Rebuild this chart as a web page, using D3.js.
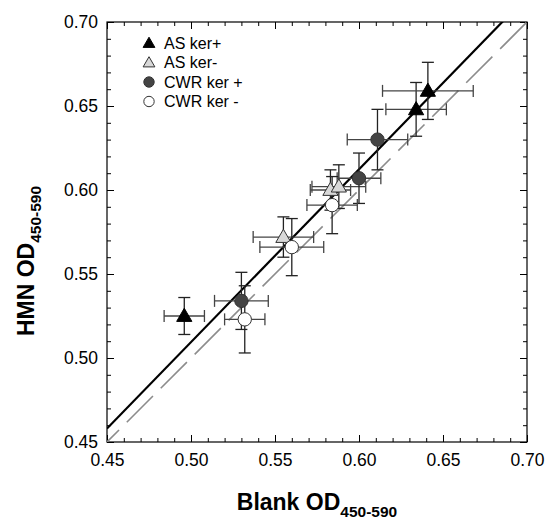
<!DOCTYPE html>
<html>
<head>
<meta charset="utf-8">
<script src="https://cdn.jsdelivr.net/npm/d3@7"></script>
<style>
  body { margin: 0; background: #fff; }
  svg text { font-family: Arial, "Liberation Sans", sans-serif; }
</style>
</head>
<body>
<div id="chart"></div>
<script>
'use strict';

// series names, in legend order
const seriesNames = ['AS ker+', 'AS ker-', 'CWR ker +', 'CWR ker -'];
const seriesShapes = ['triangle', 'triangle', 'circle', 'circle'];
const seriesFill = ['#000000', '#d8d8d8', '#444444', '#ffffff'];

// blank OD (x) and HMN OD (y), three samples per series
const blankOD = [
  [0.496, 0.634, 0.641],
  [0.555, 0.583, 0.588],
  [0.530, 0.600, 0.611],
  [0.532, 0.560, 0.584]
];
const hmnOD = [
  [0.525, 0.648, 0.659],
  [0.572, 0.600, 0.602],
  [0.534, 0.607, 0.630],
  [0.523, 0.566, 0.591]
];
// error bars (+/-)
const blankErr = [
  [0.012, 0.018, 0.027],
  [0.018, 0.012, 0.016],
  [0.016, 0.013, 0.018],
  [0.012, 0.019, 0.015]
];
const hmnErr = [
  [0.011, 0.016, 0.017],
  [0.012, 0.012, 0.013],
  [0.017, 0.015, 0.018],
  [0.020, 0.017, 0.017]
];

// regression line (the identity line is drawn dashed)
const fitSlope = 1.0285;
const fitIntercept = -0.0048;

const majorTicks = [0.45, 0.50, 0.55, 0.60, 0.65, 0.70];
const minorTicks = d3.range(0.45, 0.7001, 0.01);

const width = 547, height = 523;
const margin = {left: 107, top: 22};
const plotW = 420, plotH = 420;

let svg = d3.select('#chart').append('svg')
    .attr('width', width)
    .attr('height', height);

let x = d3.scaleLinear().domain([0.45, 0.70]).range([0, plotW]);
let y = d3.scaleLinear().domain([0.45, 0.70]).range([plotH, 0]);

let g = svg.append('g')
    .attr('transform', 'translate(' + margin.left + ',' + margin.top + ')');

svg.append('defs').append('clipPath')
    .attr('id', 'plot-clip')
    .append('rect')
    .attr('width', plotW)
    .attr('height', plotH);

// axes - ticks point inward on all four sides
function addAxis(axisFn, transform, values, size, labels) {
  let a = g.append('g')
      .attr('transform', transform)
      .call(axisFn
        .tickValues(values)
        .tickSize(size)
        .tickPadding(9)
        .tickFormat(labels ? d3.format('.2f') : ''));
  a.select('.domain').remove();
  a.selectAll('line').attr('stroke', '#000').attr('stroke-width', 1);
  a.selectAll('text')
      .attr('font-size', 17.5)
      .attr('fill', '#000');
  return a;
}

addAxis(d3.axisBottom(x), 'translate(0,' + plotH + ')', minorTicks, -4, false);
addAxis(d3.axisBottom(x), 'translate(0,' + plotH + ')', majorTicks, -7, true)
    .selectAll('text').attr('dy', '0.85em');
addAxis(d3.axisTop(x), 'translate(0,0)', minorTicks, -4, false);
addAxis(d3.axisTop(x), 'translate(0,0)', majorTicks, -7, false);
addAxis(d3.axisLeft(y), 'translate(0,0)', minorTicks, -4, false);
addAxis(d3.axisLeft(y), 'translate(0,0)', majorTicks, -7, true);
addAxis(d3.axisRight(y), 'translate(' + plotW + ',0)', minorTicks, -4, false);
addAxis(d3.axisRight(y), 'translate(' + plotW + ',0)', majorTicks, -7, false);

g.append('rect')
    .attr('width', plotW)
    .attr('height', plotH)
    .attr('fill', 'none')
    .attr('stroke', '#000')
    .attr('stroke-width', 1.2);

// lines
let lines = g.append('g').attr('clip-path', 'url(#plot-clip)');

lines.append('line')
    .attr('x1', x(0.45)).attr('y1', y(0.45))
    .attr('x2', x(0.70)).attr('y2', y(0.70))
    .attr('stroke', '#8c8c8c')
    .attr('stroke-width', 1.6)
    .attr('stroke-dasharray', '37,11')
    .attr('stroke-dashoffset', 20);

lines.append('line')
    .attr('x1', x(0.45)).attr('y1', y(fitSlope * 0.45 + fitIntercept))
    .attr('x2', x(0.70)).attr('y2', y(fitSlope * 0.70 + fitIntercept))
    .attr('stroke', '#000')
    .attr('stroke-width', 2.2);

// points with error bars
let points = [];
seriesNames.forEach(function(name, i) {
  blankOD[i].forEach(function(v, j) {
    points.push({s: i, x: v, y: hmnOD[i][j], ex: blankErr[i][j], ey: hmnErr[i][j]});
  });
});

const cap = 6;
let bars = g.append('g').attr('class', 'error-bars')
    .attr('stroke', '#222')
    .attr('stroke-width', 1.3);

points.forEach(function(p) {
  let b = bars.append('g');
  b.append('line')
      .attr('x1', x(p.x - p.ex)).attr('x2', x(p.x + p.ex))
      .attr('y1', y(p.y)).attr('y2', y(p.y))
      .attr('stroke', '#444');
  b.append('line')
      .attr('x1', x(p.x - p.ex)).attr('x2', x(p.x - p.ex))
      .attr('y1', y(p.y) - cap).attr('y2', y(p.y) + cap)
      .attr('stroke', '#444');
  b.append('line')
      .attr('x1', x(p.x + p.ex)).attr('x2', x(p.x + p.ex))
      .attr('y1', y(p.y) - cap).attr('y2', y(p.y) + cap)
      .attr('stroke', '#444');
  b.append('line')
      .attr('x1', x(p.x)).attr('x2', x(p.x))
      .attr('y1', y(p.y - p.ey)).attr('y2', y(p.y + p.ey));
  b.append('line')
      .attr('x1', x(p.x) - cap).attr('x2', x(p.x) + cap)
      .attr('y1', y(p.y - p.ey)).attr('y2', y(p.y - p.ey));
  b.append('line')
      .attr('x1', x(p.x) - cap).attr('x2', x(p.x) + cap)
      .attr('y1', y(p.y + p.ey)).attr('y2', y(p.y + p.ey));
});

let triangle = d3.symbol().type(d3.symbolTriangle).size(100);
let circle = d3.symbol().type(d3.symbolCircle).size(140);

function drawMarker(sel, i) {
  sel.attr('d', seriesShapes[i] === 'triangle' ? triangle() : circle())
      .attr('fill', seriesFill[i])
      .attr('stroke', i === 0 ? '#000' : '#333')
      .attr('stroke-width', 1);
}

g.append('g').selectAll('path')
    .data(points)
    .join('path')
    .attr('transform', function(d) {
      let dy = seriesShapes[d.s] === 'triangle' ? 1 : 0;
      return 'translate(' + x(d.x) + ',' + (y(d.y) + dy) + ')';
    })
    .each(function(d) { drawMarker(d3.select(this), d.s); });

// legend
let legend = g.append('g').attr('transform', 'translate(42,21)');
seriesNames.forEach(function(name, i) {
  let row = legend.append('g').attr('transform', 'translate(0,' + (i * 19.5) + ')');
  row.append('path')
      .attr('transform', 'translate(0,' + (seriesShapes[i] === 'triangle' ? 1 : 0) + ')')
      .call(drawMarker, i)
      .attr('d', seriesShapes[i] === 'triangle'
        ? d3.symbol().type(d3.symbolTriangle).size(60)()
        : d3.symbol().type(d3.symbolCircle).size(85)());
  row.append('text')
      .attr('x', 15)
      .attr('y', 5.5)
      .attr('font-size', 16)
      .text(name);
});

// axis titles
let xTitle = svg.append('text')
    .attr('x', margin.left + plotW / 2)
    .attr('y', 510)
    .attr('text-anchor', 'middle')
    .attr('font-weight', 'bold')
    .attr('font-size', 23);
xTitle.append('tspan').text('Blank OD');
xTitle.append('tspan').attr('dy', 7).attr('font-size', 15.5).text('450-590');

let yTitle = svg.append('text')
    .attr('transform', 'translate(34,261) rotate(-90)')
    .attr('text-anchor', 'middle')
    .attr('font-weight', 'bold')
    .attr('font-size', 23);
yTitle.append('tspan').text('HMN OD');
yTitle.append('tspan').attr('dy', 7).attr('font-size', 15.5).text('450-590');
</script>
</body>
</html>
